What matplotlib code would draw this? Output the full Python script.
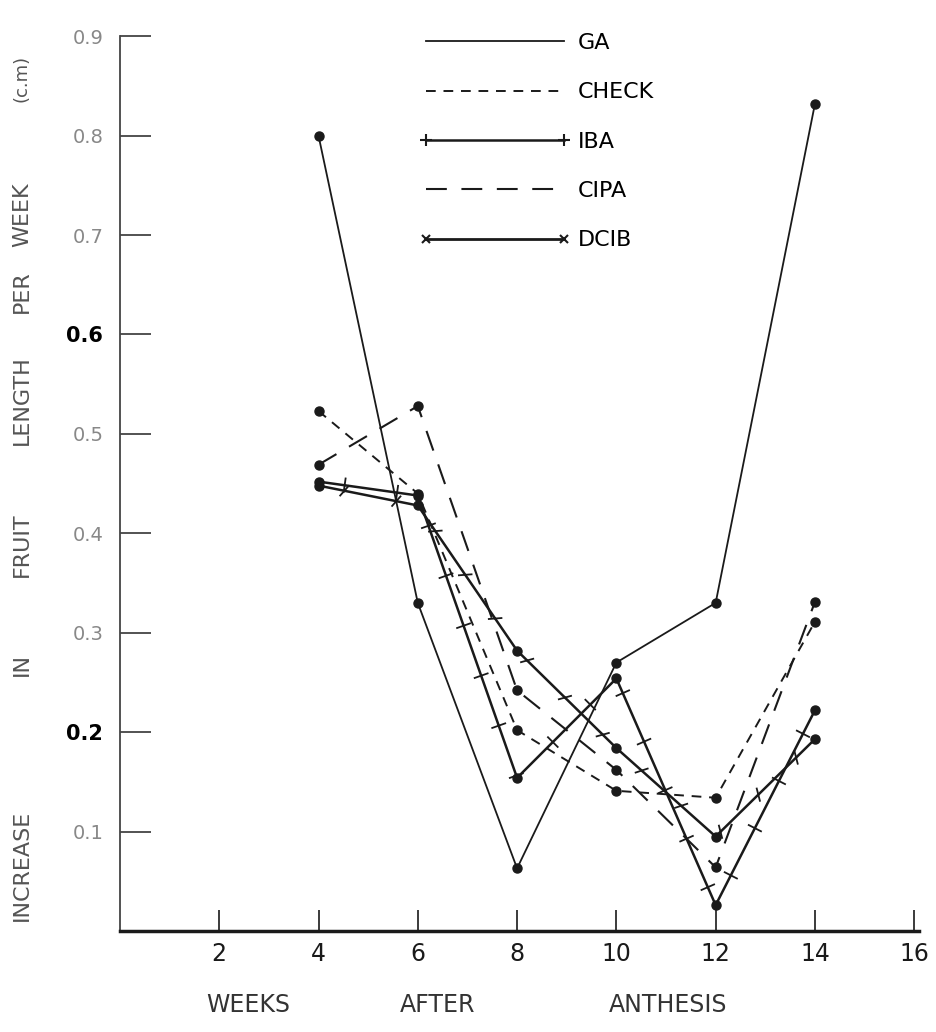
import matplotlib
matplotlib.use("Agg")
import matplotlib.pyplot as plt
from matplotlib import patheffects
from matplotlib.lines import Line2D

# weeks after anthesis
weeks = [4, 6, 8, 10, 12, 14]

# increase in fruit length per week (cm)
ga = [0.80, 0.33, 0.063, 0.27, 0.33, 0.832]
check = [0.523, 0.44, 0.202, 0.141, 0.134, 0.311]
iba = [0.452, 0.438, 0.154, 0.254, 0.026, 0.222]
cipa = [0.469, 0.528, 0.242, 0.162, 0.064, 0.331]
dcib = [0.448, 0.428, 0.282, 0.184, 0.095, 0.193]

names = ["GA", "CHECK", "IBA", "CIPA", "DCIB"]
xticks = [2, 4, 6, 8, 10, 12, 14, 16]
yticks = [0.1, 0.2, 0.3, 0.4, 0.5, 0.6, 0.7, 0.8, 0.9]
dark_yticks = [0.2, 0.6]

ylabel_words = ["INCREASE", "IN", "FRUIT", "LENGTH", "PER", "WEEK", "(c.m)"]
ylabel_pos = [865, 665, 545, 400, 292, 215, 78]        # pixel rows of word centres
xlabel_words = ["WEEKS", "AFTER", "ANTHESIS"]
xlabel_pos = [248, 438, 668]                           # pixel columns of word centres

W, H = 937, 1032
fig = plt.figure(figsize=(W / 100, H / 100), dpi=100)
ax = fig.add_axes([0.128, 0.0979, 0.853, 0.867])

ink = "#1a1a1a"
dot = dict(marker="o", ls="none", ms=6.5, color=ink)

# GA
ax.plot(weeks, ga, color=ink, lw=1.3)
ax.plot(weeks, ga, **dot)
# CHECK
ax.plot(weeks, check, color=ink, lw=1.4, ls=(0, (5, 4)))
ax.plot(weeks, check, **dot)
# IBA
ticks_plus = [patheffects.withTickedStroke(spacing=38, angle=90, length=0.13, linewidth=1.3),
              patheffects.TickedStroke(spacing=38, angle=-90, length=0.13, linewidth=1.3)]
ax.plot(weeks, iba, color=ink, lw=1.8, path_effects=ticks_plus)
ax.plot(weeks, iba, **dot)
# CIPA
ax.plot(weeks, cipa, color=ink, lw=1.5, ls=(0, (10, 7)))
ax.plot(weeks, cipa, **dot)
# DCIB
ticks_x = [patheffects.withTickedStroke(spacing=38, angle=60, length=0.12, linewidth=1.3),
           patheffects.TickedStroke(spacing=38, angle=-120, length=0.12, linewidth=1.3)]
ax.plot(weeks, dcib, color=ink, lw=1.8, path_effects=ticks_x)
ax.plot(weeks, dcib, **dot)

ax.set_xlim(0, 16.1)
ax.set_ylim(0, 0.9)
for s in ["top", "right"]:
    ax.spines[s].set_visible(False)
ax.spines["bottom"].set_linewidth(2.5)
ax.spines["left"].set_linewidth(1.3)
ax.spines["bottom"].set_color(ink)
ax.spines["left"].set_color("#444444")

ax.set_xticks(xticks)
ax.set_xticklabels([str(t) for t in xticks])
ax.tick_params(axis="x", direction="in", length=15, width=1.2, pad=8,
               labelsize=17, colors=ink)
ax.set_yticks(yticks)
ax.set_yticklabels(["%.1f" % t for t in yticks])
ax.tick_params(axis="y", direction="in", length=22, width=1.3, pad=12,
               labelsize=14, colors="#444444")
for lab, t in zip(ax.get_yticklabels(), yticks):
    if t in dark_yticks:
        lab.set_color("black")
        lab.set_fontweight("bold")
        lab.set_fontsize(15)
    else:
        lab.set_color("#888888")

for word, yp in zip(ylabel_words, ylabel_pos):
    fig.text(22 / W, 1 - yp / H, word, rotation=90, ha="center", va="center",
             fontsize=16 if word != "(c.m)" else 13, color="#555555")
for word, xp in zip(xlabel_words, xlabel_pos):
    fig.text(xp / W, 1 - 1005 / H, word, ha="center", va="center",
             fontsize=17, color="#333333")

handles = [
    Line2D([], [], color=ink, lw=1.3),
    Line2D([], [], color=ink, lw=1.4, ls=(0, (5, 4))),
    Line2D([], [], color=ink, lw=1.8, marker="+", ms=9, mew=1.5),
    Line2D([], [], color=ink, lw=1.5, ls=(0, (10, 7))),
    Line2D([], [], color=ink, lw=2.0, marker="x", ms=6, mew=1.5),
]
fig.legend(handles, names, loc="upper left", bbox_to_anchor=(0.448, 0.968),
           frameon=False, fontsize=16, handlelength=6.8, handletextpad=0.3,
           labelspacing=1.32, borderpad=0, borderaxespad=0, numpoints=2)

fig.savefig("out.png", dpi=100)
